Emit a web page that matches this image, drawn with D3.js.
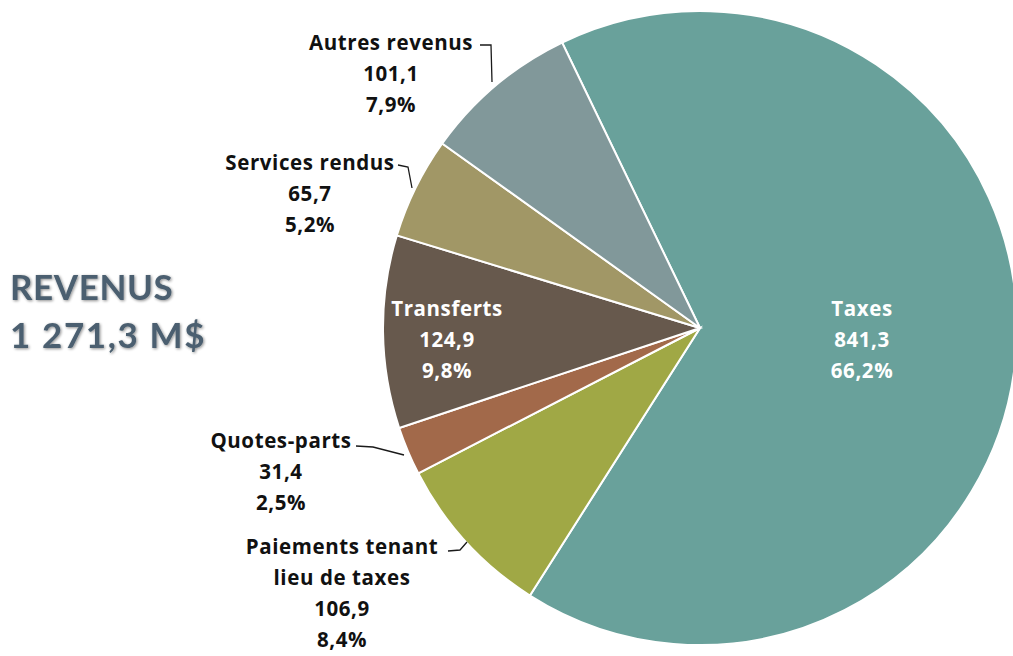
<!DOCTYPE html>
<html>
<head>
<meta charset="utf-8">
<script src="https://cdn.jsdelivr.net/npm/d3@7"></script>
<style>
  body { margin: 0; background: #fff; }
  svg text { font-family: "Open Sans", Lato, sans-serif; font-weight: 700; }
  svg text.title { font-family: Lato, "Open Sans", sans-serif; }
</style>
</head>
<body>
<div id="chart"></div>
<script>
(function(){
const categories = ["Taxes", "Paiements tenant lieu de taxes", "Quotes-parts", "Transferts", "Services rendus", "Autres revenus"];
const values = [841.3, 106.9, 31.4, 124.9, 65.7, 101.1];
const percents = ["66,2%", "8,4%", "2,5%", "9,8%", "5,2%", "7,9%"];
const colors = ["#69a19b", "#a0a845", "#a2694a", "#67594d", "#a19766", "#81989a"];

const width = 1013;
const height = 656;
const cx = 700, cy = 328, radius = 317;

// label lines and leader lines (layout only)
const labelLayout = {
  "Taxes": { x: 862, y: 308, lines: ["Taxes"], fill: "#fff" },
  "Paiements tenant lieu de taxes": { x: 342, y: 546, lines: ["Paiements tenant", "lieu de taxes"], leader: [[448, 551], [460, 550], [467, 542]] },
  "Quotes-parts": { x: 281, y: 440, lines: ["Quotes-parts"], leader: [[356, 446], [373, 447], [404, 455]] },
  "Transferts": { x: 447, y: 308, lines: ["Transferts"], fill: "#fff" },
  "Services rendus": { x: 310, y: 162, lines: ["Services rendus"], leader: [[398, 165], [408, 167], [412, 188]] },
  "Autres revenus": { x: 391, y: 42, lines: ["Autres revenus"], leader: [[480, 45], [491, 45], [492, 82]] }
};

const data = categories.map((c, i) => ({ category: c, value: values[i], pct: percents[i], color: colors[i] }));

const svg = d3.select("#chart")
  .append("svg")
  .attr("width", width)
  .attr("height", height);

const defs = svg.append("defs");
const blur = defs.append("filter").attr("id", "soft").attr("x", "-10%").attr("y", "-20%").attr("width", "120%").attr("height", "140%");
blur.append("feGaussianBlur").attr("in", "SourceAlpha").attr("stdDeviation", 1.6).attr("result", "b");
blur.append("feOffset").attr("in", "b").attr("dx", 1).attr("dy", 1).attr("result", "o");
blur.append("feComponentTransfer").attr("in", "o").attr("result", "s")
  .append("feFuncA").attr("type", "linear").attr("slope", 0.45);
const merge = blur.append("feMerge");
merge.append("feMergeNode").attr("in", "s");
merge.append("feMergeNode").attr("in", "SourceGraphic");

// title
const title = svg.append("g").attr("filter", "url(#soft)");
title.append("text").attr("class", "title").attr("x", 10).attr("y", 300).attr("font-size", 35)
  .attr("letter-spacing", 0.6).attr("fill", "#4b5f6f").text("REVENUS");
title.append("text").attr("class", "title").attr("x", 10).attr("y", 348).attr("font-size", 35)
  .attr("letter-spacing", 1.6).attr("fill", "#4b5f6f").text("1 271,3 M$");

const pie = d3.pie()
  .sort(null)
  .value(d => d.value)
  .startAngle(-0.45)
  .endAngle(-0.45 + 2 * Math.PI);

const arc = d3.arc().innerRadius(0).outerRadius(radius);

const g = svg.append("g").attr("transform", `translate(${cx},${cy})`);

g.selectAll("path.slice")
  .data(pie(data))
  .enter().append("path")
  .attr("class", "slice")
  .attr("d", arc)
  .attr("fill", d => d.data.color)
  .attr("stroke", "#fff")
  .attr("stroke-width", 2);

// leader lines
const line = d3.line();
svg.selectAll("path.leader")
  .data(data.filter(d => labelLayout[d.category].leader))
  .enter().append("path")
  .attr("class", "leader")
  .attr("d", d => line(labelLayout[d.category].leader))
  .attr("fill", "none")
  .attr("stroke", "#1a1a1a")
  .attr("stroke-width", 1.3);

// labels
const lineH = 31;
data.forEach(d => {
  const L = labelLayout[d.category];
  const lines = L.lines.concat([d3.format(".1f")(d.value).replace(".", ","), d.pct]);
  const t = svg.append("text")
    .attr("text-anchor", "middle")
    .attr("font-size", 20.5)
    .attr("letter-spacing", 0.6)
    .attr("fill", L.fill || "#111");
  lines.forEach((s, i) => {
    t.append("tspan")
      .attr("x", L.x)
      .attr("y", L.y + i * lineH + 7.5)
      .text(s);
  });
});
})();
</script>
</body>
</html>
